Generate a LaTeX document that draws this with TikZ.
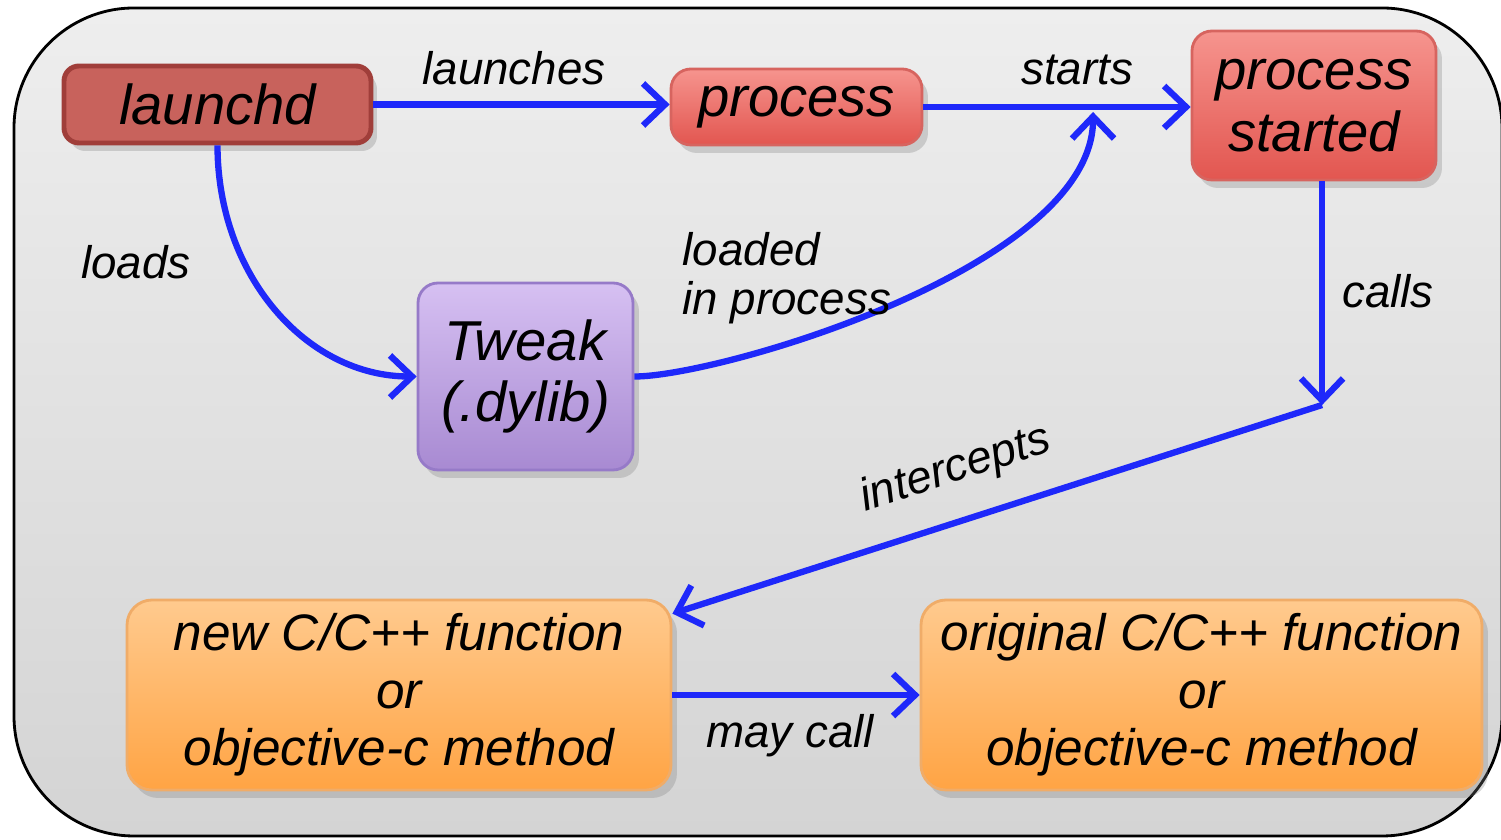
\documentclass[tikz,border=0pt]{standalone}
\usepackage{fontspec}
\setmainfont{Liberation Sans}
\usepackage{tikz}
\usetikzlibrary{arrows, arrows.meta}
\usetikzlibrary{shadows, positioning}

\definecolor{linkblue}{RGB}{30,40,250}
\definecolor{bgtop}{RGB}{238,238,238}
\definecolor{bgbot}{RGB}{212,212,212}
\definecolor{launchfill}{RGB}{200,98,92}
\definecolor{launchline}{RGB}{160,62,58}
\definecolor{proctop}{RGB}{246,148,142}
\definecolor{procbot}{RGB}{226,86,80}
\definecolor{procline}{RGB}{215,100,95}
\definecolor{tweaktop}{RGB}{214,192,242}
\definecolor{tweakbot}{RGB}{168,138,210}
\definecolor{tweakline}{RGB}{150,122,200}
\definecolor{fntop}{RGB}{255,202,142}
\definecolor{fnbot}{RGB}{255,164,68}
\definecolor{fnline}{RGB}{240,172,104}

\begin{document}
\begin{tikzpicture}[scale=0.1]
\tikzstyle{every node}+=[inner sep=0pt, font=\fontsize{13}{14}\selectfont\itshape]
\tikzstyle{box}=[rounded corners=2mm, align=center, line width=0.8pt, font=\fontsize{16}{17.5}\selectfont\itshape, drop shadow={opacity=0.3, shadow xshift=0.6mm, shadow yshift=-0.8mm}]
\tikzstyle{launchbox}=[box, fill=launchfill, draw=launchline, line width=1.4pt, rounded corners=1.5mm]
\tikzstyle{procbox}=[box, top color=proctop, bottom color=procbot, draw=procline]
\tikzstyle{tweakbox}=[box, top color=tweaktop, bottom color=tweakbot, draw=tweakline]
\tikzstyle{fnbox}=[box, top color=fntop, bottom color=fnbot, draw=fnline, rounded corners=2.5mm, font=\fontsize{14.6}{16.3}\selectfont\itshape]
\tikzstyle{link}=[draw=linkblue, line width=1.8pt, -{Straight Barb[length=2.2mm, width=4.2mm]}]
\useasboundingbox (0,0) rectangle (150.1,-84);
% background panel
\shade [top color=bgtop, bottom color=bgbot, draw=black, line width=0.8pt, rounded corners=12mm] (1.4,-0.8) rectangle (150.2,-83.6);
% boxes
\node [launchbox, minimum width=3.07cm, minimum height=0.77cm] (launchd) at (21.75,-10.45) {launchd};
\node [procbox, minimum width=2.51cm, minimum height=0.76cm] (process) at (79.65,-10.7) {process};
\node [procbox, minimum width=2.44cm, minimum height=1.49cm] (started) at (131.4,-10.55) {process\\started};
\node [tweakbox, minimum width=2.15cm, minimum height=1.87cm] (tweak) at (52.55,-37.65) {Tweak\\(.dylib)};
\node [fnbox, minimum width=5.44cm, minimum height=1.9cm] (newfn) at (39.9,-69.5) {new C/C++ function\\or\\objective-c method};
\node [fnbox, minimum width=5.61cm, minimum height=1.9cm] (origfn) at (120.15,-69.5) {original C/C++ function\\or\\objective-c method};
% connectors
\coordinate (meet) at (109.3,-11.2);
\coordinate (bend) at (132.2,-40.5);
\draw [link] (launchd.east) -- (launchd.east -| process.west);
\draw [link] (process.east) -- (process.east -| started.west);
\draw [link] (launchd.south) .. controls +(0,-13) and +(-11,0) .. (tweak.west);
\draw [link] (tweak.east) .. controls +(8.5,0) and +(0,-15.5) .. (meet);
\draw [link] (bend |- started.south) -- (bend);
\draw [link] (bend) -- ([shift={(0,-1.5)}]newfn.north east) node [pos=0.54, sloped, above=2.6mm] (lblintercept) {intercepts};
\draw [link] (newfn.east) -- (origfn.west);
% labels
\node (lbllaunch) at (51.4,-6.8) {launches};
\node (lblstart) at (107.7,-7.0) {starts};
\node (lblload) at (13.6,-26.2) {loads};
\node [anchor=north west, align=left] (lblloaded) at (68.2,-23.2) {loaded\\in process};
\node (lblcalls) at (138.8,-29.1) {calls};
\node (lblmay) at (79.0,-73.6) {may call};
\end{tikzpicture}
\end{document}
